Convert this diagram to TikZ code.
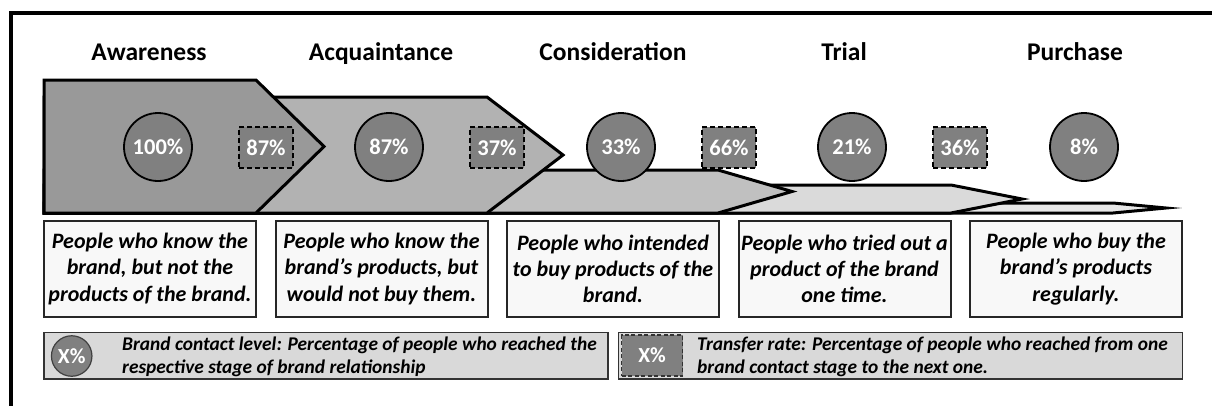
\documentclass[tikz,border=0pt]{standalone}
\usepackage{fontspec}
\setmainfont{Carlito}
\usepackage{tikz}
\definecolor{stageA}{HTML}{999999}
\definecolor{stageB}{HTML}{B2B2B2}
\definecolor{stageC}{HTML}{C0C0C0}
\definecolor{stageD}{HTML}{DADADA}
\definecolor{stageE}{HTML}{E8E8E8}
\definecolor{levelgray}{HTML}{808080}
\definecolor{descfill}{HTML}{F8F8F8}
\definecolor{keyfill}{HTML}{D9D9D9}
\newcommand{\stagefont}{\fontsize{25.5}{30}\selectfont\bfseries}
\newcommand{\pctfont}{\fontsize{22.5}{26}\selectfont\bfseries}
\newcommand{\descfont}{\fontsize{22}{26.3}\selectfont\bfseries\itshape}
\newcommand{\keyfont}{\fontsize{19.4}{22.7}\selectfont\bfseries\itshape}
\newcommand{\keysymfont}{\fontsize{21.5}{24}\selectfont\bfseries}
\tikzstyle{stage}=[draw=black, line width=3pt, line join=miter, miter limit=12]
\tikzstyle{stagetitle}=[inner sep=0, anchor=base, font=\stagefont]
\tikzstyle{level}=[draw=black, circle, fill=levelgray, line width=1.8pt, inner sep=0,
                   minimum size=68pt, text=white, font=\pctfont]
\tikzstyle{rate}=[draw=black, fill=levelgray, line width=1.8pt, dash pattern=on 5pt off 3pt,
                  inner sep=0, minimum width=54pt, minimum height=41pt, text=white, font=\pctfont]
\tikzstyle{desc}=[draw=black!85, fill=descfill, line width=2pt, inner sep=0,
                  minimum width=212pt, minimum height=95.5pt, align=center, font=\descfont]
\tikzstyle{keybox}=[draw=black!80, fill=keyfill, line width=1.3pt, inner sep=0,
                    minimum width=564pt, minimum height=46.5pt]
\tikzstyle{keytext}=[inner sep=0, anchor=west, align=left, font=\keyfont]

\begin{document}
\begin{tikzpicture}[x=1pt, y=-1pt]
    \useasboundingbox (0, 0) rectangle (1212, 405);
    \draw[line width=4pt] (11.3, 410) -- (11.3, 13) -- (1220, 13);
    % stage arrows, back to front
    \draw[stage, fill=stageE] (44, 203) -- (1113, 203) -- (1166, 208) -- (1113, 213) -- (44, 213) -- cycle;
    \draw[stage, fill=stageD] (44, 185) -- (951, 185) -- (1022, 199) -- (951, 213) -- (44, 213) -- cycle;
    \draw[stage, fill=stageC] (44, 170) -- (718, 170) -- (792, 191.5) -- (718, 213) -- (44, 213) -- cycle;
    \draw[stage, fill=stageB] (44, 97) -- (487, 97) -- (563, 155) -- (487, 213) -- (44, 213) -- cycle;
    \draw[stage, fill=stageA] (44, 80) -- (256, 80) -- (324, 146.5) -- (256, 213) -- (44, 213) -- cycle;

    \node[stagetitle] (T1) at (149, 60) {Awareness};
    \node[stagetitle] (T2) at (381, 60) {Acquaintance};
    \node[stagetitle] (T3) at (613, 60) {Consideration};
    \node[stagetitle] (T4) at (844, 60) {Trial};
    \node[stagetitle] (T5) at (1075, 60) {Purchase};

    \node[level] (L1) at (158, 147) {100\%};
    \node[level] (L2) at (389, 147) {87\%};
    \node[level] (L3) at (621, 147) {33\%};
    \node[level] (L4) at (852, 147) {21\%};
    \node[level] (L5) at (1084, 147) {8\%};

    \node[rate] (R1) at (266, 147.5) {87\%};
    \node[rate] (R2) at (497, 147.5) {37\%};
    \node[rate] (R3) at (729, 147.5) {66\%};
    \node[rate] (R4) at (960, 147.5) {36\%};

    \node[desc] (D1) at (150, 269) {People who know the\\brand, but not the\\products of the brand.};
    \node[desc] (D2) at (381.5, 269) {People who know the\\brand’s products, but\\would not buy them.};
    \node[desc] (D3) at (613, 269) {People who intended\\to buy products of the\\brand.};
    \node[desc] (D4) at (844.5, 269) {People who tried out a\\product of the brand\\one time.};
    \node[desc] (D5) at (1076, 269) {People who buy the\\brand’s products\\regularly.};

    % legend
    \node[keybox] (K1) at (325.9, 355.7) {};
    \node[draw=black!75, circle, fill=levelgray, line width=1.2pt, inner sep=0, minimum size=40.5pt,
          text=white, font=\keysymfont] (K1sym) at (71.7, 356) {X\%};
    \node[keytext] (K1txt) at (122, 356.5) {Brand contact level: Percentage of people who reached the\\respective stage of brand relationship};
    \node[keybox] (K2) at (900.6, 355.7) {};
    \node[draw=black!80, fill=levelgray, line width=1.2pt, dash pattern=on 4pt off 2.5pt, inner sep=0,
          minimum width=61pt, minimum height=41pt, text=white, font=\keysymfont] (K2sym) at (652, 355.5) {X\%};
    \node[keytext] (K2txt) at (697, 356.5) {Transfer rate: Percentage of people who reached from one\\brand contact stage to the next one.};
\end{tikzpicture}
\end{document}
